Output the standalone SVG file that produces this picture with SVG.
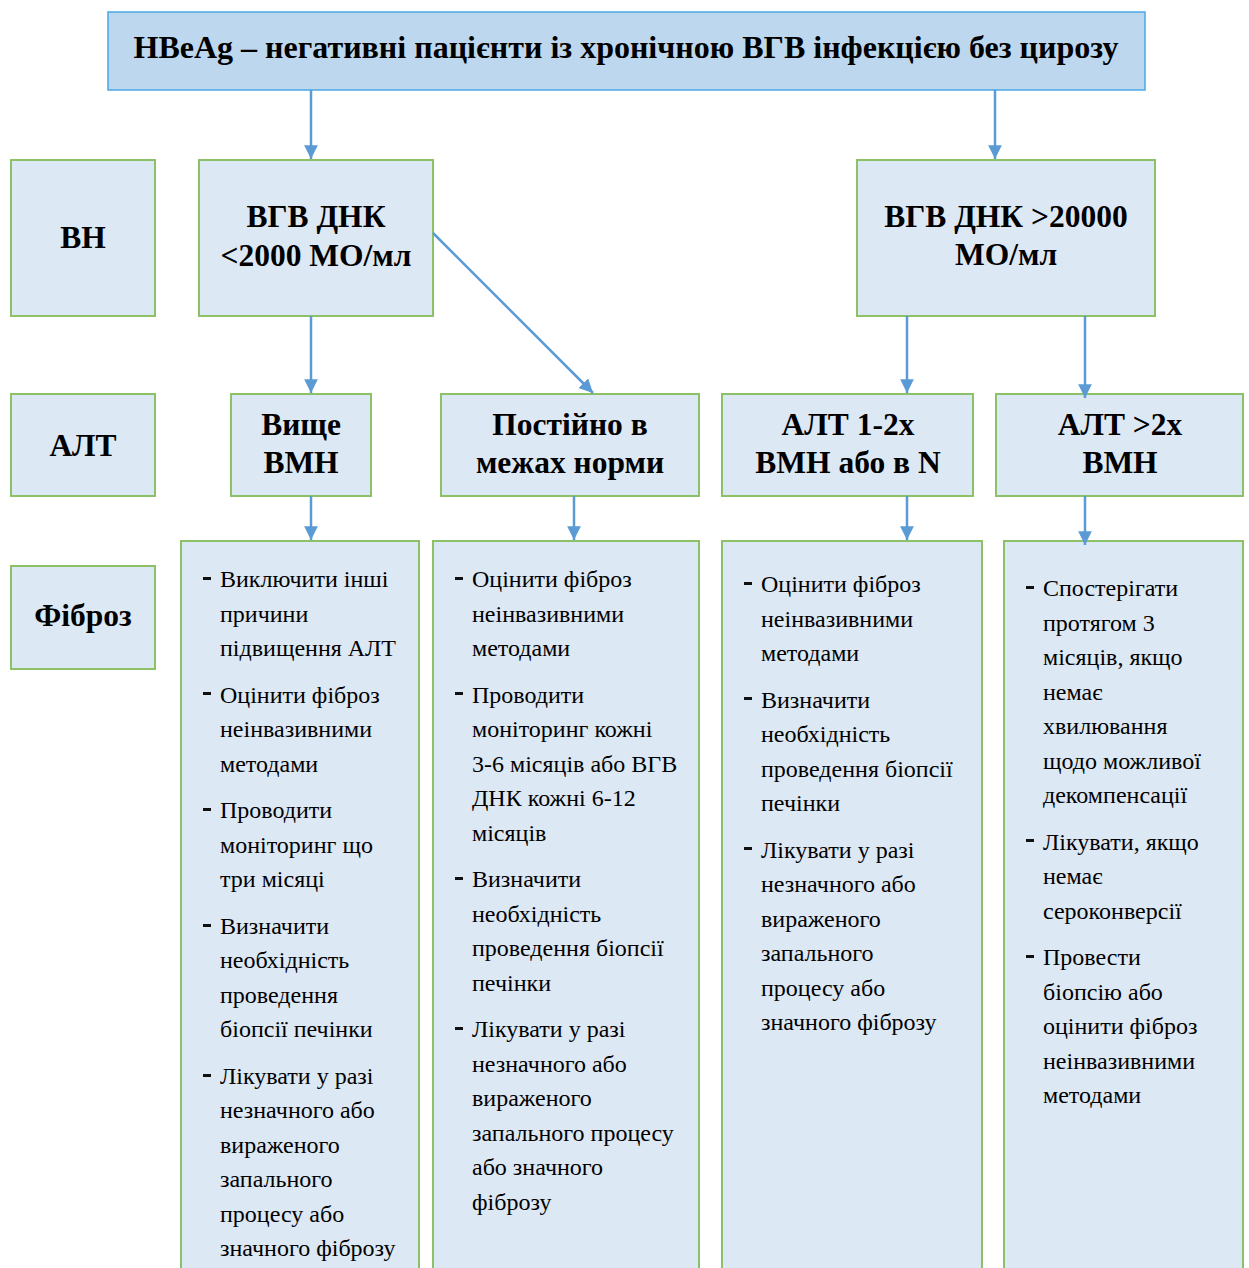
<svg xmlns="http://www.w3.org/2000/svg" width="1249" height="1268" viewBox="0 0 1249 1268">
<defs>
<marker id="ah" viewBox="0 0 10 10" refX="10" refY="5" markerWidth="5.5" markerHeight="5.5" markerUnits="strokeWidth" orient="auto">
<path d="M0,0 L10,5 L0,10 Z" fill="#5b9bd5"/>
</marker>
<style>
.n{fill:#dde8f5;stroke:#8cc168;stroke-width:2}
.t{fill:#bdd7ee;stroke:#4aa8e6;stroke-width:1.5}
.h{font-family:"Liberation Serif","Times New Roman",serif;font-weight:bold;font-size:31.5px;fill:#000;text-anchor:middle}
.tt{font-size:32px}
.b{font-family:"Liberation Serif","Times New Roman",serif;font-size:24px;fill:#000}
.d{fill:#111}
.c{fill:none;stroke:#5b9bd5;stroke-width:2.5}
</style>
</defs>
<rect width="1249" height="1268" fill="#fff"/>

<g id="title"><rect class="t" x="108" y="12" width="1037" height="78"/>
<text class="h tt" x="626" y="58">HBeAg – негативні пацієнти із хронічною ВГВ інфекцією без цирозу</text></g>

<g id="lbl-vn"><rect class="n" x="11" y="160" width="144" height="156"/><text class="h" x="83" y="248">ВН</text></g>
<g id="lbl-alt"><rect class="n" x="11" y="394" width="144" height="102"/><text class="h" x="83" y="456">АЛТ</text></g>
<g id="lbl-fib"><rect class="n" x="11" y="566" width="144" height="103"/><text class="h" x="83" y="626">Фіброз</text></g>

<g id="vn-low"><rect class="n" x="199" y="160" width="234" height="156"/>
<text class="h" x="316" y="227">ВГВ ДНК</text><text class="h" x="316" y="266">&lt;2000 МО/мл</text></g>
<g id="vn-high"><rect class="n" x="857" y="160" width="298" height="156"/>
<text class="h" x="1006" y="227">ВГВ ДНК &gt;20000</text><text class="h" x="1006" y="265">МО/мл</text></g>

<g id="alt1"><rect class="n" x="231" y="394" width="140" height="102"/>
<text class="h" x="301" y="435">Вище</text><text class="h" x="301" y="473">ВМН</text></g>
<g id="alt2"><rect class="n" x="441" y="394" width="258" height="102"/>
<text class="h" x="570" y="435">Постійно в</text><text class="h" x="570" y="473">межах норми</text></g>
<g id="alt3"><rect class="n" x="722" y="394" width="251" height="102"/>
<text class="h" x="848" y="435">АЛТ 1-2х</text><text class="h" x="848" y="473">ВМН або в N</text></g>
<g id="alt4"><rect class="n" x="996" y="394" width="247" height="102"/>
<text class="h" x="1120" y="435">АЛТ &gt;2х</text><text class="h" x="1120" y="473">ВМН</text></g>

<g id="fib1"><rect class="n" x="181" y="541" width="238" height="740"/>
<rect class="d" x="203" y="577" width="8" height="3"/><rect class="d" x="203" y="692" width="8" height="3"/><rect class="d" x="203" y="808" width="8" height="3"/><rect class="d" x="203" y="924" width="8" height="3"/><rect class="d" x="203" y="1074" width="8" height="3"/>
<text class="b" x="220" y="587">Виключити інші</text>
<text class="b" x="220" y="621.5">причини</text>
<text class="b" x="220" y="656">підвищення АЛТ</text>
<text class="b" x="220" y="702.5">Оцінити фіброз</text>
<text class="b" x="220" y="737">неінвазивними</text>
<text class="b" x="220" y="771.5">методами</text>
<text class="b" x="220" y="818">Проводити</text>
<text class="b" x="220" y="852.5">моніторинг що</text>
<text class="b" x="220" y="887">три місяці</text>
<text class="b" x="220" y="933.5">Визначити</text>
<text class="b" x="220" y="968">необхідність</text>
<text class="b" x="220" y="1002.5">проведення</text>
<text class="b" x="220" y="1037">біопсії печінки</text>
<text class="b" x="220" y="1083.5">Лікувати у разі</text>
<text class="b" x="220" y="1118">незначного або</text>
<text class="b" x="220" y="1152.5">вираженого</text>
<text class="b" x="220" y="1187">запального</text>
<text class="b" x="220" y="1221.5">процесу або</text>
<text class="b" x="220" y="1256">значного фіброзу</text>
</g>

<g id="fib2"><rect class="n" x="433" y="541" width="266" height="740"/>
<rect class="d" x="455" y="577" width="8" height="3"/><rect class="d" x="455" y="692" width="8" height="3"/><rect class="d" x="455" y="877" width="8" height="3"/><rect class="d" x="455" y="1027" width="8" height="3"/>
<text class="b" x="472" y="587">Оцінити фіброз</text>
<text class="b" x="472" y="621.5">неінвазивними</text>
<text class="b" x="472" y="656">методами</text>
<text class="b" x="472" y="702.5">Проводити</text>
<text class="b" x="472" y="737">моніторинг кожні</text>
<text class="b" x="472" y="771.5">3-6 місяців або ВГВ</text>
<text class="b" x="472" y="806">ДНК кожні 6-12</text>
<text class="b" x="472" y="840.5">місяців</text>
<text class="b" x="472" y="887">Визначити</text>
<text class="b" x="472" y="921.5">необхідність</text>
<text class="b" x="472" y="956">проведення біопсії</text>
<text class="b" x="472" y="990.5">печінки</text>
<text class="b" x="472" y="1037">Лікувати у разі</text>
<text class="b" x="472" y="1071.5">незначного або</text>
<text class="b" x="472" y="1106">вираженого</text>
<text class="b" x="472" y="1140.5">запального процесу</text>
<text class="b" x="472" y="1175">або значного</text>
<text class="b" x="472" y="1209.5">фіброзу</text>
</g>

<g id="fib3"><rect class="n" x="722" y="541" width="260" height="740"/>
<rect class="d" x="744" y="582" width="8" height="3"/><rect class="d" x="744" y="697" width="8" height="3"/><rect class="d" x="744" y="847" width="8" height="3"/>
<text class="b" x="761" y="592">Оцінити фіброз</text>
<text class="b" x="761" y="626.5">неінвазивними</text>
<text class="b" x="761" y="661">методами</text>
<text class="b" x="761" y="707.5">Визначити</text>
<text class="b" x="761" y="742">необхідність</text>
<text class="b" x="761" y="776.5">проведення біопсії</text>
<text class="b" x="761" y="811">печінки</text>
<text class="b" x="761" y="857.5">Лікувати у разі</text>
<text class="b" x="761" y="892">незначного або</text>
<text class="b" x="761" y="926.5">вираженого</text>
<text class="b" x="761" y="961">запального</text>
<text class="b" x="761" y="995.5">процесу або</text>
<text class="b" x="761" y="1030">значного фіброзу</text>
</g>

<g id="fib4"><rect class="n" x="1004" y="541" width="239" height="740"/>
<rect class="d" x="1026" y="586" width="8" height="3"/><rect class="d" x="1026" y="839" width="8" height="3"/><rect class="d" x="1026" y="955" width="8" height="3"/>
<text class="b" x="1043" y="596">Спостерігати</text>
<text class="b" x="1043" y="630.5">протягом 3</text>
<text class="b" x="1043" y="665">місяців, якщо</text>
<text class="b" x="1043" y="699.5">немає</text>
<text class="b" x="1043" y="734">хвилювання</text>
<text class="b" x="1043" y="768.5">щодо можливої</text>
<text class="b" x="1043" y="803">декомпенсації</text>
<text class="b" x="1043" y="849.5">Лікувати, якщо</text>
<text class="b" x="1043" y="884">немає</text>
<text class="b" x="1043" y="918.5">сероконверсії</text>
<text class="b" x="1043" y="965">Провести</text>
<text class="b" x="1043" y="999.5">біопсію або</text>
<text class="b" x="1043" y="1034">оцінити фіброз</text>
<text class="b" x="1043" y="1068.5">неінвазивними</text>
<text class="b" x="1043" y="1103">методами</text>
</g>

<g id="connectors">
<line class="c" x1="311" y1="90" x2="311" y2="159" marker-end="url(#ah)"/>
<line class="c" x1="995" y1="90" x2="995" y2="159" marker-end="url(#ah)"/>
<line class="c" x1="311" y1="316" x2="311" y2="393" marker-end="url(#ah)"/>
<line class="c" x1="433" y1="233" x2="593" y2="393" marker-end="url(#ah)"/>
<line class="c" x1="907" y1="316" x2="907" y2="393" marker-end="url(#ah)"/>
<line class="c" x1="1085" y1="316" x2="1085" y2="398" marker-end="url(#ah)"/>
<line class="c" x1="311" y1="496" x2="311" y2="540" marker-end="url(#ah)"/>
<line class="c" x1="574" y1="496" x2="574" y2="540" marker-end="url(#ah)"/>
<line class="c" x1="907" y1="496" x2="907" y2="540" marker-end="url(#ah)"/>
<line class="c" x1="1085" y1="496" x2="1085" y2="545" marker-end="url(#ah)"/>
</g>
</svg>
